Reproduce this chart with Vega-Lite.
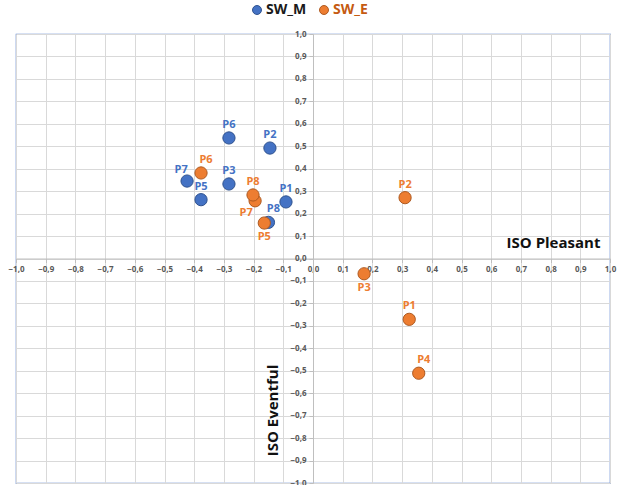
{
  "$schema": "https://vega.github.io/schema/vega-lite/v6.json",
  "width": 594,
  "height": 449,
  "autosize": {"type": "none"},
  "padding": {"left": 16, "top": 34, "right": 9, "bottom": 2},
  "background": "white",
  "config": {
    "view": {"stroke": "#5B83CF", "strokeWidth": 1.2},
    "font": "Open Sans"
  },
  "data": {
    "values": [
      {"serie": "SW_M", "label": "P1", "x": -0.091, "y": 0.252},
      {"serie": "SW_M", "label": "P2", "x": -0.145, "y": 0.492},
      {"serie": "SW_M", "label": "P3", "x": -0.283, "y": 0.332},
      {"serie": "SW_M", "label": "P5", "x": -0.377, "y": 0.262},
      {"serie": "SW_M", "label": "P6", "x": -0.283, "y": 0.537},
      {"serie": "SW_M", "label": "P7", "x": -0.424, "y": 0.345},
      {"serie": "SW_M", "label": "P8", "x": -0.150, "y": 0.161},
      {"serie": "SW_E", "label": "P1", "x": 0.324, "y": -0.271},
      {"serie": "SW_E", "label": "P2", "x": 0.310, "y": 0.271},
      {"serie": "SW_E", "label": "P3", "x": 0.172, "y": -0.068},
      {"serie": "SW_E", "label": "P4", "x": 0.356, "y": -0.511},
      {"serie": "SW_E", "label": "P5", "x": -0.164, "y": 0.158},
      {"serie": "SW_E", "label": "P6", "x": -0.377, "y": 0.381},
      {"serie": "SW_E", "label": "P7", "x": -0.195, "y": 0.257},
      {"serie": "SW_E", "label": "P8", "x": -0.202, "y": 0.283}
    ]
  },
  "encoding": {
    "x": {
      "field": "x", "type": "quantitative",
      "scale": {"domain": [-1, 1], "nice": false, "zero": false},
      "axis": {
        "orient": "bottom", "offset": -224.5,
        "values": [-1,-0.9,-0.8,-0.7,-0.6,-0.5,-0.4,-0.3,-0.2,-0.1,0,0.1,0.2,0.3,0.4,0.5,0.6,0.7,0.8,0.9,1],
        "labelExpr": "replace(format(datum.value, '.1f'), '.', ',')",
        "labelFont": "Open Sans", "labelFontSize": 8, "labelFontWeight": "bold", "labelColor": "#595959",
        "labelPadding": 3, "labelOverlap": false, "labelBound": false, "labelFlush": false,
        "domainColor": "#BFBFBF", "tickColor": "#BFBFBF", "tickSize": 4,
        "gridColor": "#D9D9D9", "gridWidth": 1,
        "title": "ISO Pleasant", "titleFont": "Open Sans", "titleFontSize": 15, "titleFontWeight": "bold", "titleColor": "#111111",
        "titleX": 537, "titleY": -16, "titleAlign": "center", "titleBaseline": "middle", "titleAnchor": null
      }
    },
    "y": {
      "field": "y", "type": "quantitative",
      "scale": {"domain": [-1, 1], "nice": false, "zero": false},
      "axis": {
        "orient": "left", "offset": -297,
        "values": [-1,-0.9,-0.8,-0.7,-0.6,-0.5,-0.4,-0.3,-0.2,-0.1,0,0.1,0.2,0.3,0.4,0.5,0.6,0.7,0.8,0.9,1],
        "labelExpr": "replace(format(datum.value, '.1f'), '.', ',')",
        "labelFont": "Open Sans", "labelFontSize": 8, "labelFontWeight": "bold", "labelColor": "#595959",
        "labelPadding": 3, "labelOverlap": false, "labelBound": false, "labelFlush": false,
        "domainColor": "#BFBFBF", "tickColor": "#BFBFBF", "tickSize": 4,
        "gridColor": "#D9D9D9", "gridWidth": 1,
        "title": "ISO Eventful", "titleFont": "Open Sans", "titleFontSize": 15, "titleFontWeight": "bold", "titleColor": "#111111",
        "titleAngle": -90, "titleX": -41, "titleY": 376, "titleAlign": "center", "titleBaseline": "middle", "titleAnchor": null
      }
    }
  },
  "layer": [
    {
      "mark": {"type": "point", "filled": true, "shape": "circle", "size": 150, "opacity": 1, "strokeWidth": 1},
      "encoding": {
        "color": {
          "field": "serie", "type": "nominal",
          "scale": {"domain": ["SW_M", "SW_E"], "range": ["#4472C4", "#ED7D31"]},
          "legend": {
            "title": null, "orient": "none", "direction": "horizontal",
            "legendX": 234, "legendY": -31,
            "symbolType": "circle", "symbolSize": 80, "symbolStrokeWidth": 1,
            "labelFont": "Open Sans", "labelFontSize": 14, "labelFontWeight": "bold",
            "labelColor": {"expr": "datum.label == 'SW_E' ? '#C55A11' : '#1A1A1A'"},
            "columnPadding": 10, "labelOffset": 2
          }
        },
        "stroke": {
          "field": "serie", "type": "nominal",
          "scale": {"domain": ["SW_M", "SW_E"], "range": ["#2F528F", "#AE5A21"]},
          "legend": null
        },
        "order": {"field": "serie", "sort": "descending"}
      }
    },
    {
      "transform": [{"filter": "(datum.serie == 'SW_M' && indexof(['P1','P2','P3','P5','P6'], datum.label) >= 0) || (datum.serie == 'SW_E' && indexof(['P1','P2','P8'], datum.label) >= 0)"}],
      "mark": {"type": "text", "dy": -13, "fontSize": 11, "fontWeight": "bold", "font": "Open Sans"},
      "encoding": {
        "text": {"field": "label"},
        "color": {"field": "serie", "type": "nominal", "scale": {"domain": ["SW_M", "SW_E"], "range": ["#4472C4", "#ED7D31"]}, "legend": null}
      }
    },
    {
      "transform": [{"filter": "(datum.serie == 'SW_M' && datum.label == 'P8') || (datum.serie == 'SW_E' && indexof(['P6','P4'], datum.label) >= 0)"}],
      "mark": {"type": "text", "dy": -13, "dx": 5, "fontSize": 11, "fontWeight": "bold", "font": "Open Sans"},
      "encoding": {
        "text": {"field": "label"},
        "color": {"field": "serie", "type": "nominal", "scale": {"domain": ["SW_M", "SW_E"], "range": ["#4472C4", "#ED7D31"]}, "legend": null}
      }
    },
    {
      "transform": [{"filter": "datum.serie == 'SW_M' && datum.label == 'P7'"}],
      "mark": {"type": "text", "dy": -11, "dx": -6, "fontSize": 11, "fontWeight": "bold", "font": "Open Sans"},
      "encoding": {
        "text": {"field": "label"},
        "color": {"field": "serie", "type": "nominal", "scale": {"domain": ["SW_M", "SW_E"], "range": ["#4472C4", "#ED7D31"]}, "legend": null}
      }
    },
    {
      "transform": [{"filter": "datum.serie == 'SW_E' && indexof(['P3','P5'], datum.label) >= 0"}],
      "mark": {"type": "text", "dy": 14, "fontSize": 11, "fontWeight": "bold", "font": "Open Sans"},
      "encoding": {
        "text": {"field": "label"},
        "color": {"field": "serie", "type": "nominal", "scale": {"domain": ["SW_M", "SW_E"], "range": ["#4472C4", "#ED7D31"]}, "legend": null}
      }
    },
    {
      "transform": [{"filter": "datum.serie == 'SW_E' && datum.label == 'P7'"}],
      "mark": {"type": "text", "dy": 12, "dx": -9, "fontSize": 11, "fontWeight": "bold", "font": "Open Sans"},
      "encoding": {
        "text": {"field": "label"},
        "color": {"field": "serie", "type": "nominal", "scale": {"domain": ["SW_M", "SW_E"], "range": ["#4472C4", "#ED7D31"]}, "legend": null}
      }
    }
  ]
}
